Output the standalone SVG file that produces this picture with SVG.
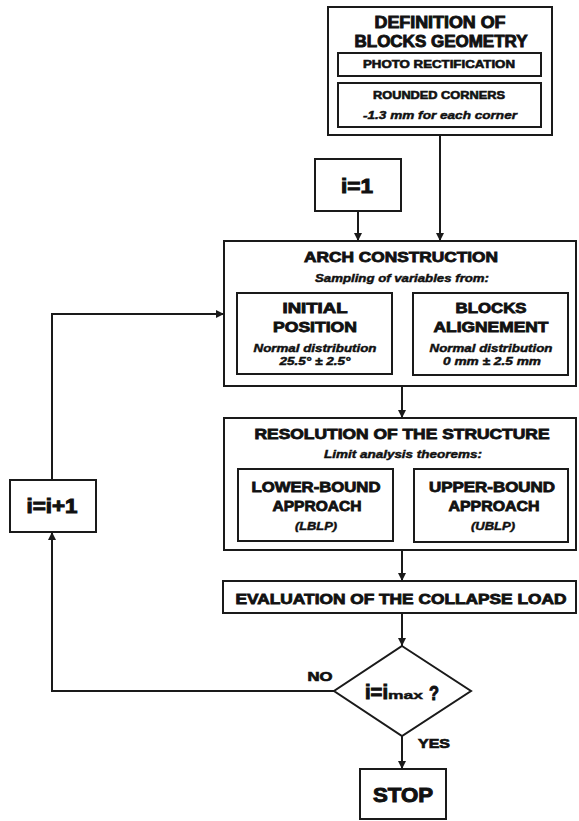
<svg xmlns="http://www.w3.org/2000/svg" width="579" height="821" viewBox="0 0 579 821">
<defs>
<style>
.box{fill:#fff;stroke:#1a1a1a;stroke-width:2}
.ln{fill:none;stroke:#1a1a1a;stroke-width:2}
text{font-family:"Liberation Sans",Arial,sans-serif;font-weight:bold;fill:#111;stroke:#111;stroke-width:0.6;text-anchor:middle}
.it{font-style:italic;stroke-width:0.45}
.s16{font-size:16px;stroke-width:0.9}
.s15{font-size:15px;stroke-width:0.85}
.s11{font-size:11px}
.s20{font-size:20px;stroke-width:1}
</style>
<marker id="ar" viewBox="0 0 10 10" refX="10" refY="5" markerWidth="8" markerHeight="8" markerUnits="userSpaceOnUse" orient="auto">
<path d="M0,0 L10,5 L0,10 z" fill="#1a1a1a"/>
</marker>
</defs>
<rect width="579" height="821" fill="#fff"/>

<g id="connectors">
<path class="ln" d="M440,135 V241" marker-end="url(#ar)"/>
<path class="ln" d="M358,211 V241" marker-end="url(#ar)"/>
<path class="ln" d="M52,480 V314 H224" marker-end="url(#ar)"/>
<path class="ln" d="M402,386 V418" marker-end="url(#ar)"/>
<path class="ln" d="M402,550 V581" marker-end="url(#ar)"/>
<path class="ln" d="M402,613 V646" marker-end="url(#ar)"/>
<path class="ln" d="M334,691 H52 V532" marker-end="url(#ar)"/>
<path class="ln" d="M402,736 V769" marker-end="url(#ar)"/>
<text x="320" y="681" textLength="25" lengthAdjust="spacingAndGlyphs" style="font-size:13px;stroke-width:0.7">NO</text>
<text x="434" y="748" textLength="32" lengthAdjust="spacingAndGlyphs" style="font-size:13px;stroke-width:0.7">YES</text>
</g>

<g id="definition">
<rect class="box" x="328" y="7" width="224" height="128"/>
<text class="s16" x="440" y="28" textLength="131" lengthAdjust="spacingAndGlyphs">DEFINITION OF</text>
<text class="s16" x="441" y="47" textLength="173" lengthAdjust="spacingAndGlyphs">BLOCKS GEOMETRY</text>
<rect class="box" x="338" y="53" width="203" height="23"/>
<text class="s11" x="439" y="68" textLength="152" lengthAdjust="spacingAndGlyphs">PHOTO RECTIFICATION</text>
<rect class="box" x="338" y="83" width="203" height="44"/>
<text class="s11" x="439" y="99" textLength="132" lengthAdjust="spacingAndGlyphs">ROUNDED CORNERS</text>
<text class="s11 it" x="440" y="119" textLength="154" lengthAdjust="spacingAndGlyphs">-1.3 mm for each corner</text>
</g>

<g id="init">
<rect class="box" x="315" y="159" width="86" height="52"/>
<text class="s20" x="357" y="193" textLength="32" lengthAdjust="spacingAndGlyphs">i=1</text>
</g>

<g id="arch">
<rect class="box" x="224" y="241" width="352" height="145"/>
<text class="s15" x="401" y="262" textLength="194" lengthAdjust="spacingAndGlyphs">ARCH CONSTRUCTION</text>
<text class="s11 it" x="402" y="282" textLength="174" lengthAdjust="spacingAndGlyphs">Sampling of variables from:</text>
<rect class="box" x="237" y="293" width="155" height="81"/>
<text class="s15" x="315" y="313" textLength="65" lengthAdjust="spacingAndGlyphs">INITIAL</text>
<text class="s15" x="315" y="332" textLength="84" lengthAdjust="spacingAndGlyphs">POSITION</text>
<text class="s11 it" x="315" y="352" textLength="123" lengthAdjust="spacingAndGlyphs">Normal distribution</text>
<text class="s11 it" x="315" y="365" textLength="71" lengthAdjust="spacingAndGlyphs">25.5° ± 2.5°</text>
<rect class="box" x="413" y="293" width="155" height="82"/>
<text class="s15" x="491" y="313" textLength="71" lengthAdjust="spacingAndGlyphs">BLOCKS</text>
<text class="s15" x="491" y="332" textLength="115" lengthAdjust="spacingAndGlyphs">ALIGNEMENT</text>
<text class="s11 it" x="491" y="352" textLength="123" lengthAdjust="spacingAndGlyphs">Normal distribution</text>
<text class="s11 it" x="492" y="365" textLength="98" lengthAdjust="spacingAndGlyphs">0 mm ± 2.5 mm</text>
</g>

<g id="resolution">
<rect class="box" x="224" y="418" width="352" height="132"/>
<text class="s15" x="402" y="439" textLength="295" lengthAdjust="spacingAndGlyphs">RESOLUTION OF THE STRUCTURE</text>
<text class="s11 it" x="403" y="458" textLength="158" lengthAdjust="spacingAndGlyphs">Limit analysis theorems:</text>
<rect class="box" x="238" y="469" width="155" height="72"/>
<text class="s15" x="316" y="492" textLength="129" lengthAdjust="spacingAndGlyphs">LOWER-BOUND</text>
<text class="s15" x="317" y="511" textLength="89" lengthAdjust="spacingAndGlyphs">APPROACH</text>
<text class="s11 it" x="316" y="530" textLength="42" lengthAdjust="spacingAndGlyphs">(LBLP)</text>
<rect class="box" x="414" y="469" width="154" height="73"/>
<text class="s15" x="492" y="492" textLength="126" lengthAdjust="spacingAndGlyphs">UPPER-BOUND</text>
<text class="s15" x="494" y="511" textLength="91" lengthAdjust="spacingAndGlyphs">APPROACH</text>
<text class="s11 it" x="493" y="530" textLength="44" lengthAdjust="spacingAndGlyphs">(UBLP)</text>
</g>

<g id="evaluation">
<rect class="box" x="223" y="581" width="353" height="32"/>
<text class="s15" x="401" y="604" textLength="331" lengthAdjust="spacingAndGlyphs">EVALUATION OF THE COLLAPSE LOAD</text>
</g>

<g id="decision">
<path class="box" d="M402,646 L471,691 L402,736 L334,691 Z"/>
<text class="s20" x="365" y="699" style="text-anchor:start" textLength="23" lengthAdjust="spacingAndGlyphs">i=i</text>
<text x="388" y="699" style="text-anchor:start;font-size:11px;stroke-width:0.4" textLength="35" lengthAdjust="spacingAndGlyphs">max</text>
<text class="s20" x="434" y="700" textLength="10" lengthAdjust="spacingAndGlyphs">?</text>
</g>

<g id="stop">
<rect class="box" x="360" y="769" width="86" height="50"/>
<text class="s20" x="403" y="802" textLength="60" lengthAdjust="spacingAndGlyphs">STOP</text>
</g>

<g id="increment">
<rect class="box" x="10" y="480" width="86" height="52"/>
<text class="s20" x="52" y="513" textLength="51" lengthAdjust="spacingAndGlyphs">i=i+1</text>
</g>
</svg>
